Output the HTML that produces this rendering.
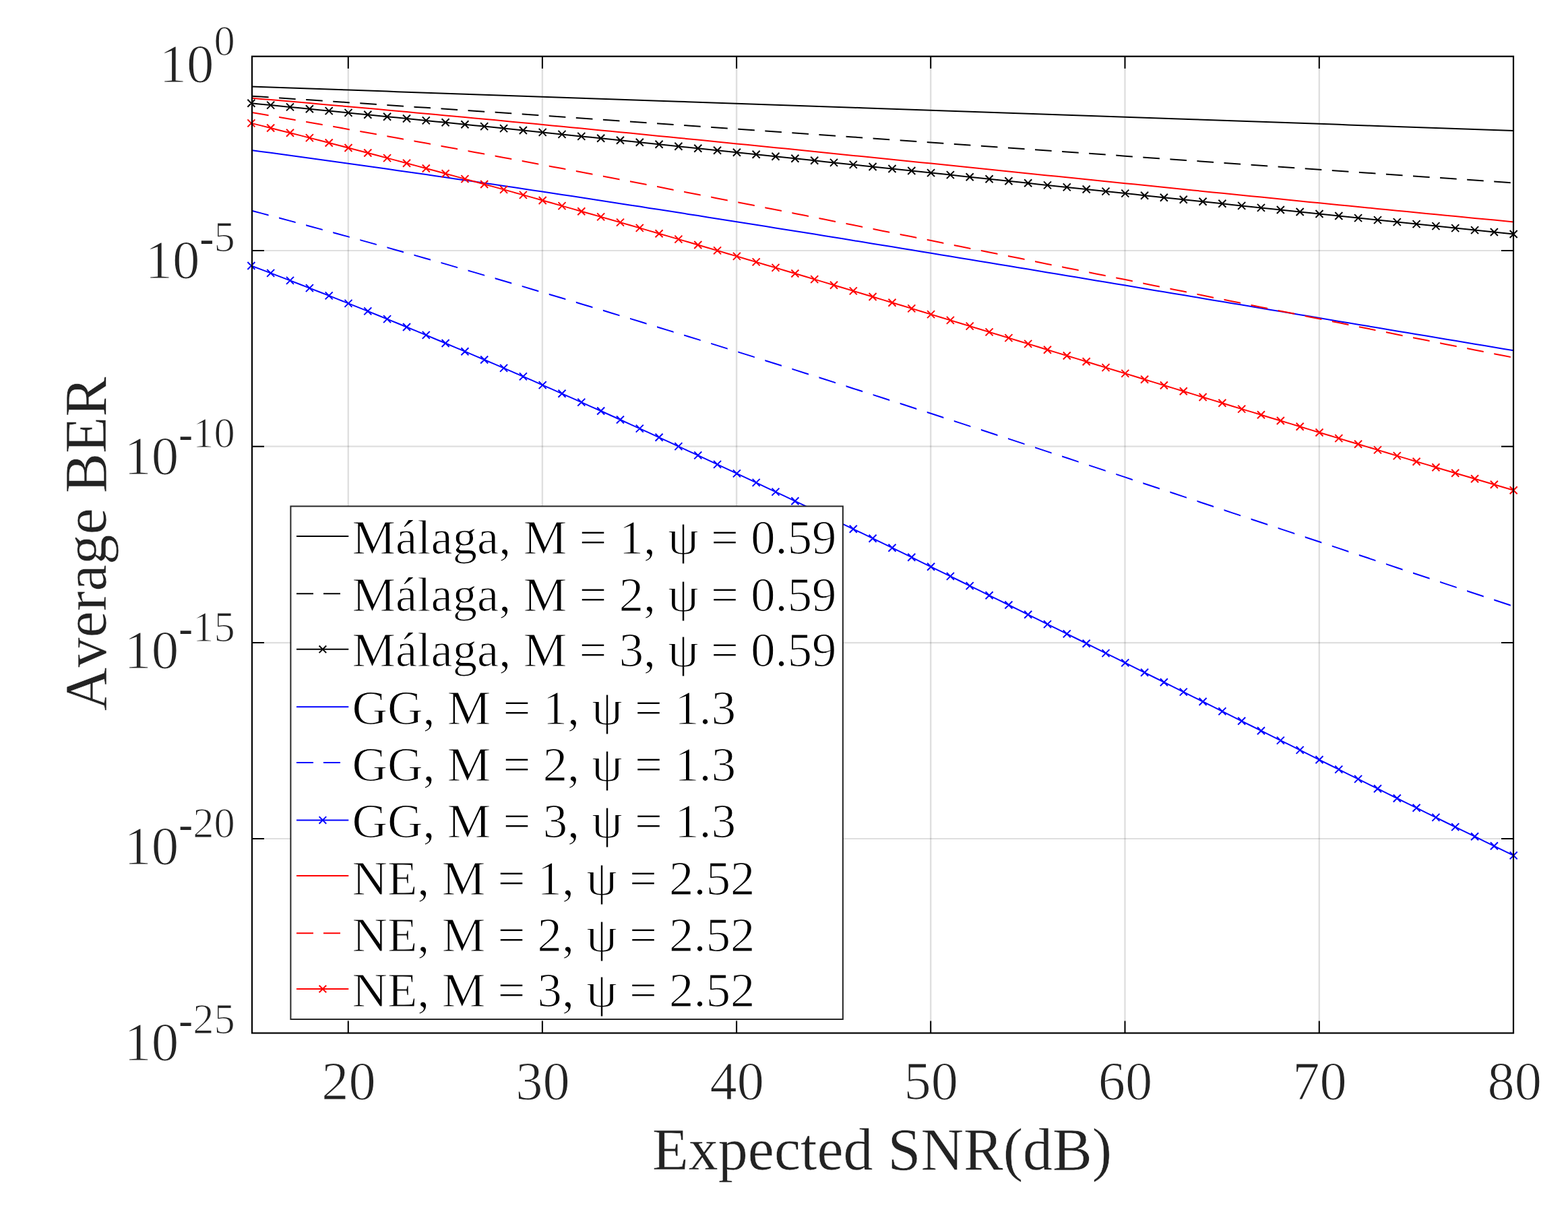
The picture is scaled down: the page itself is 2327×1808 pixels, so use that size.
<!DOCTYPE html><html><head><meta charset="utf-8"><style>html,body{margin:0;padding:0;background:#fff;}svg{display:block;}</style></head><body>
<div id="w">
<svg width="2327" height="1808" viewBox="0 0 2327 1808" font-family="Liberation Serif, Times New Roman, serif" style="font-kerning:none">
<rect width="2327" height="1808" fill="#fff"/>
<style>text{stroke:#fff;stroke-width:1.2;}</style>
<path d="M516.8 83.7V1533.5M804.9 83.7V1533.5M1093.1 83.7V1533.5M1381.2 83.7V1533.5M1669.5 83.7V1533.5M1957.8 83.7V1533.5" stroke="#262626" stroke-opacity="0.15" stroke-width="2.4" fill="none"/>
<path d="M374.0 372.0H2246.0M374.0 662.7H2246.0M374.0 954.1H2246.0M374.0 1245.0H2246.0" stroke="#262626" stroke-opacity="0.15" stroke-width="2.2" fill="none"/>
<g clip-path="url(#clip)" fill="none" stroke-width="2.0" stroke-linejoin="round">
<defs><clipPath id="clip"><rect x="366.0" y="83.7" width="1888.0" height="1449.8"/></clipPath>
<clipPath id="dash"><rect x="374.00" y="83.7" width="24.6" height="1449.8"/><rect x="414.07" y="83.7" width="24.6" height="1449.8"/><rect x="454.14" y="83.7" width="24.6" height="1449.8"/><rect x="494.21" y="83.7" width="24.6" height="1449.8"/><rect x="534.28" y="83.7" width="24.6" height="1449.8"/><rect x="574.35" y="83.7" width="24.6" height="1449.8"/><rect x="614.42" y="83.7" width="24.6" height="1449.8"/><rect x="654.49" y="83.7" width="24.6" height="1449.8"/><rect x="694.56" y="83.7" width="24.6" height="1449.8"/><rect x="734.63" y="83.7" width="24.6" height="1449.8"/><rect x="774.70" y="83.7" width="24.6" height="1449.8"/><rect x="814.77" y="83.7" width="24.6" height="1449.8"/><rect x="854.84" y="83.7" width="24.6" height="1449.8"/><rect x="894.91" y="83.7" width="24.6" height="1449.8"/><rect x="934.98" y="83.7" width="24.6" height="1449.8"/><rect x="975.05" y="83.7" width="24.6" height="1449.8"/><rect x="1015.12" y="83.7" width="24.6" height="1449.8"/><rect x="1055.19" y="83.7" width="24.6" height="1449.8"/><rect x="1095.26" y="83.7" width="24.6" height="1449.8"/><rect x="1135.33" y="83.7" width="24.6" height="1449.8"/><rect x="1175.40" y="83.7" width="24.6" height="1449.8"/><rect x="1215.47" y="83.7" width="24.6" height="1449.8"/><rect x="1255.54" y="83.7" width="24.6" height="1449.8"/><rect x="1295.61" y="83.7" width="24.6" height="1449.8"/><rect x="1335.68" y="83.7" width="24.6" height="1449.8"/><rect x="1375.75" y="83.7" width="24.6" height="1449.8"/><rect x="1415.82" y="83.7" width="24.6" height="1449.8"/><rect x="1455.89" y="83.7" width="24.6" height="1449.8"/><rect x="1495.96" y="83.7" width="24.6" height="1449.8"/><rect x="1536.03" y="83.7" width="24.6" height="1449.8"/><rect x="1576.10" y="83.7" width="24.6" height="1449.8"/><rect x="1616.17" y="83.7" width="24.6" height="1449.8"/><rect x="1656.24" y="83.7" width="24.6" height="1449.8"/><rect x="1696.31" y="83.7" width="24.6" height="1449.8"/><rect x="1736.38" y="83.7" width="24.6" height="1449.8"/><rect x="1776.45" y="83.7" width="24.6" height="1449.8"/><rect x="1816.52" y="83.7" width="24.6" height="1449.8"/><rect x="1856.59" y="83.7" width="24.6" height="1449.8"/><rect x="1896.66" y="83.7" width="24.6" height="1449.8"/><rect x="1936.73" y="83.7" width="24.6" height="1449.8"/><rect x="1976.80" y="83.7" width="24.6" height="1449.8"/><rect x="2016.87" y="83.7" width="24.6" height="1449.8"/><rect x="2056.94" y="83.7" width="24.6" height="1449.8"/><rect x="2097.01" y="83.7" width="24.6" height="1449.8"/><rect x="2137.08" y="83.7" width="24.6" height="1449.8"/><rect x="2177.15" y="83.7" width="24.6" height="1449.8"/><rect x="2217.22" y="83.7" width="24.6" height="1449.8"/></clipPath></defs>
<path d="M372.9 128.6 L387.3 129.1 L401.7 129.6 L416.1 130.1 L430.5 130.6 L444.9 131.1 L459.4 131.6 L473.8 132.1 L488.2 132.6 L502.6 133.1 L517.0 133.6 L531.4 134.1 L545.8 134.6 L560.2 135.1 L574.6 135.6 L589.0 136.2 L603.5 136.7 L617.9 137.2 L632.3 137.7 L646.7 138.2 L661.1 138.7 L675.5 139.2 L689.9 139.7 L704.3 140.2 L718.7 140.7 L733.1 141.2 L747.6 141.7 L762.0 142.2 L776.4 142.7 L790.8 143.2 L805.2 143.7 L819.6 144.2 L834.0 144.7 L848.4 145.2 L862.8 145.7 L877.2 146.2 L891.7 146.7 L906.1 147.2 L920.5 147.7 L934.9 148.2 L949.3 148.7 L963.7 149.2 L978.1 149.7 L992.5 150.2 L1006.9 150.7 L1021.4 151.2 L1035.8 151.7 L1050.2 152.2 L1064.6 152.7 L1079.0 153.2 L1093.4 153.7 L1107.8 154.2 L1122.2 154.7 L1136.6 155.2 L1151.0 155.7 L1165.4 156.2 L1179.9 156.7 L1194.3 157.2 L1208.7 157.7 L1223.1 158.2 L1237.5 158.7 L1251.9 159.2 L1266.3 159.7 L1280.7 160.2 L1295.1 160.7 L1309.5 161.2 L1324.0 161.7 L1338.4 162.2 L1352.8 162.7 L1367.2 163.2 L1381.6 163.7 L1396.0 164.2 L1410.4 164.7 L1424.8 165.2 L1439.2 165.7 L1453.7 166.2 L1468.1 166.7 L1482.5 167.2 L1496.9 167.7 L1511.3 168.2 L1525.7 168.7 L1540.1 169.2 L1554.5 169.7 L1568.9 170.2 L1583.3 170.7 L1597.8 171.2 L1612.2 171.7 L1626.6 172.2 L1641.0 172.7 L1655.4 173.2 L1669.8 173.7 L1684.2 174.3 L1698.6 174.8 L1713.0 175.3 L1727.4 175.8 L1741.8 176.3 L1756.3 176.8 L1770.7 177.3 L1785.1 177.8 L1799.5 178.3 L1813.9 178.8 L1828.3 179.3 L1842.7 179.8 L1857.1 180.3 L1871.5 180.8 L1885.9 181.3 L1900.4 181.8 L1914.8 182.3 L1929.2 182.8 L1943.6 183.3 L1958.0 183.8 L1972.4 184.3 L1986.8 184.8 L2001.2 185.4 L2015.6 185.9 L2030.1 186.4 L2044.5 186.9 L2058.9 187.4 L2073.3 187.9 L2087.7 188.4 L2102.1 188.9 L2116.5 189.4 L2130.9 189.9 L2145.3 190.4 L2159.7 190.9 L2174.2 191.4 L2188.6 192.0 L2203.0 192.5 L2217.4 193.0 L2231.8 193.5 L2246.2 194.0" stroke="#000000"/>
<path d="M372.9 142.7 L387.3 143.6 L401.7 144.6 L416.1 145.5 L430.5 146.5 L444.9 147.4 L459.4 148.3 L473.8 149.3 L488.2 150.2 L502.6 151.2 L517.0 152.2 L531.4 153.1 L545.8 154.1 L560.2 155.0 L574.6 156.0 L589.0 156.9 L603.5 157.9 L617.9 158.9 L632.3 159.8 L646.7 160.8 L661.1 161.8 L675.5 162.7 L689.9 163.7 L704.3 164.7 L718.7 165.7 L733.1 166.6 L747.6 167.6 L762.0 168.6 L776.4 169.6 L790.8 170.6 L805.2 171.5 L819.6 172.5 L834.0 173.5 L848.4 174.5 L862.8 175.5 L877.2 176.5 L891.7 177.4 L906.1 178.4 L920.5 179.4 L934.9 180.4 L949.3 181.4 L963.7 182.4 L978.1 183.4 L992.5 184.4 L1006.9 185.4 L1021.4 186.4 L1035.8 187.4 L1050.2 188.4 L1064.6 189.4 L1079.0 190.4 L1093.4 191.4 L1107.8 192.4 L1122.2 193.4 L1136.6 194.4 L1151.0 195.4 L1165.4 196.4 L1179.9 197.4 L1194.3 198.4 L1208.7 199.4 L1223.1 200.4 L1237.5 201.4 L1251.9 202.4 L1266.3 203.4 L1280.7 204.4 L1295.1 205.4 L1309.5 206.4 L1324.0 207.4 L1338.4 208.4 L1352.8 209.5 L1367.2 210.5 L1381.6 211.5 L1396.0 212.5 L1410.4 213.5 L1424.8 214.5 L1439.2 215.5 L1453.7 216.5 L1468.1 217.5 L1482.5 218.5 L1496.9 219.5 L1511.3 220.6 L1525.7 221.6 L1540.1 222.6 L1554.5 223.6 L1568.9 224.6 L1583.3 225.6 L1597.8 226.6 L1612.2 227.6 L1626.6 228.6 L1641.0 229.6 L1655.4 230.6 L1669.8 231.7 L1684.2 232.7 L1698.6 233.7 L1713.0 234.7 L1727.4 235.7 L1741.8 236.7 L1756.3 237.7 L1770.7 238.7 L1785.1 239.7 L1799.5 240.7 L1813.9 241.7 L1828.3 242.7 L1842.7 243.7 L1857.1 244.7 L1871.5 245.7 L1885.9 246.7 L1900.4 247.7 L1914.8 248.7 L1929.2 249.7 L1943.6 250.7 L1958.0 251.7 L1972.4 252.7 L1986.8 253.7 L2001.2 254.7 L2015.6 255.7 L2030.1 256.7 L2044.5 257.7 L2058.9 258.7 L2073.3 259.7 L2087.7 260.7 L2102.1 261.7 L2116.5 262.7 L2130.9 263.6 L2145.3 264.6 L2159.7 265.6 L2174.2 266.6 L2188.6 267.6 L2203.0 268.6 L2217.4 269.5 L2231.8 270.5 L2246.2 271.5" stroke="#000000" clip-path="url(#dash)"/>
<path d="M372.9 153.3 L387.3 154.7 L401.7 156.1 L416.1 157.5 L430.5 158.9 L444.9 160.3 L459.4 161.8 L473.8 163.2 L488.2 164.6 L502.6 166.0 L517.0 167.4 L531.4 168.9 L545.8 170.3 L560.2 171.7 L574.6 173.2 L589.0 174.6 L603.5 176.0 L617.9 177.5 L632.3 178.9 L646.7 180.4 L661.1 181.8 L675.5 183.3 L689.9 184.7 L704.3 186.2 L718.7 187.6 L733.1 189.1 L747.6 190.6 L762.0 192.0 L776.4 193.5 L790.8 195.0 L805.2 196.4 L819.6 197.9 L834.0 199.4 L848.4 200.9 L862.8 202.4 L877.2 203.8 L891.7 205.3 L906.1 206.8 L920.5 208.3 L934.9 209.8 L949.3 211.3 L963.7 212.8 L978.1 214.3 L992.5 215.8 L1006.9 217.3 L1021.4 218.8 L1035.8 220.3 L1050.2 221.8 L1064.6 223.3 L1079.0 224.8 L1093.4 226.3 L1107.8 227.8 L1122.2 229.3 L1136.6 230.8 L1151.0 232.3 L1165.4 233.8 L1179.9 235.3 L1194.3 236.8 L1208.7 238.3 L1223.1 239.9 L1237.5 241.4 L1251.9 242.9 L1266.3 244.4 L1280.7 245.9 L1295.1 247.5 L1309.5 249.0 L1324.0 250.5 L1338.4 252.0 L1352.8 253.5 L1367.2 255.1 L1381.6 256.6 L1396.0 258.1 L1410.4 259.6 L1424.8 261.2 L1439.2 262.7 L1453.7 264.2 L1468.1 265.7 L1482.5 267.3 L1496.9 268.8 L1511.3 270.3 L1525.7 271.8 L1540.1 273.4 L1554.5 274.9 L1568.9 276.4 L1583.3 277.9 L1597.8 279.5 L1612.2 281.0 L1626.6 282.5 L1641.0 284.1 L1655.4 285.6 L1669.8 287.1 L1684.2 288.6 L1698.6 290.2 L1713.0 291.7 L1727.4 293.2 L1741.8 294.7 L1756.3 296.3 L1770.7 297.8 L1785.1 299.3 L1799.5 300.8 L1813.9 302.3 L1828.3 303.9 L1842.7 305.4 L1857.1 306.9 L1871.5 308.4 L1885.9 309.9 L1900.4 311.5 L1914.8 313.0 L1929.2 314.5 L1943.6 316.0 L1958.0 317.5 L1972.4 319.0 L1986.8 320.5 L2001.2 322.0 L2015.6 323.6 L2030.1 325.1 L2044.5 326.6 L2058.9 328.1 L2073.3 329.6 L2087.7 331.1 L2102.1 332.6 L2116.5 334.1 L2130.9 335.6 L2145.3 337.1 L2159.7 338.6 L2174.2 340.1 L2188.6 341.6 L2203.0 343.1 L2217.4 344.5 L2231.8 346.0 L2246.2 347.5" stroke="#000000"/>
<path d="M367.4 147.8L378.4 158.8M367.4 158.8L378.4 147.8M396.2 150.6L407.2 161.6M396.2 161.6L407.2 150.6M425.0 153.4L436.0 164.4M425.0 164.4L436.0 153.4M453.9 156.3L464.9 167.3M453.9 167.3L464.9 156.3M482.7 159.1L493.7 170.1M482.7 170.1L493.7 159.1M511.5 161.9L522.5 172.9M511.5 172.9L522.5 161.9M540.3 164.8L551.3 175.8M540.3 175.8L551.3 164.8M569.1 167.7L580.1 178.7M569.1 178.7L580.1 167.7M598.0 170.5L609.0 181.5M598.0 181.5L609.0 170.5M626.8 173.4L637.8 184.4M626.8 184.4L637.8 173.4M655.6 176.3L666.6 187.3M655.6 187.3L666.6 176.3M684.4 179.2L695.4 190.2M684.4 190.2L695.4 179.2M713.2 182.1L724.2 193.1M713.2 193.1L724.2 182.1M742.1 185.1L753.1 196.1M742.1 196.1L753.1 185.1M770.9 188.0L781.9 199.0M770.9 199.0L781.9 188.0M799.7 190.9L810.7 201.9M799.7 201.9L810.7 190.9M828.5 193.9L839.5 204.9M828.5 204.9L839.5 193.9M857.3 196.9L868.3 207.9M857.3 207.9L868.3 196.9M886.2 199.8L897.2 210.8M886.2 210.8L897.2 199.8M915.0 202.8L926.0 213.8M915.0 213.8L926.0 202.8M943.8 205.8L954.8 216.8M943.8 216.8L954.8 205.8M972.6 208.8L983.6 219.8M972.6 219.8L983.6 208.8M1001.4 211.8L1012.4 222.8M1001.4 222.8L1012.4 211.8M1030.3 214.8L1041.3 225.8M1030.3 225.8L1041.3 214.8M1059.1 217.8L1070.1 228.8M1059.1 228.8L1070.1 217.8M1087.9 220.8L1098.9 231.8M1087.9 231.8L1098.9 220.8M1116.7 223.8L1127.7 234.8M1116.7 234.8L1127.7 223.8M1145.5 226.8L1156.5 237.8M1145.5 237.8L1156.5 226.8M1174.4 229.8L1185.4 240.8M1174.4 240.8L1185.4 229.8M1203.2 232.8L1214.2 243.8M1203.2 243.8L1214.2 232.8M1232.0 235.9L1243.0 246.9M1232.0 246.9L1243.0 235.9M1260.8 238.9L1271.8 249.9M1260.8 249.9L1271.8 238.9M1289.6 242.0L1300.6 253.0M1289.6 253.0L1300.6 242.0M1318.5 245.0L1329.5 256.0M1318.5 256.0L1329.5 245.0M1347.3 248.0L1358.3 259.0M1347.3 259.0L1358.3 248.0M1376.1 251.1L1387.1 262.1M1376.1 262.1L1387.1 251.1M1404.9 254.1L1415.9 265.1M1404.9 265.1L1415.9 254.1M1433.7 257.2L1444.7 268.2M1433.7 268.2L1444.7 257.2M1462.6 260.2L1473.6 271.2M1462.6 271.2L1473.6 260.2M1491.4 263.3L1502.4 274.3M1491.4 274.3L1502.4 263.3M1520.2 266.3L1531.2 277.3M1520.2 277.3L1531.2 266.3M1549.0 269.4L1560.0 280.4M1549.0 280.4L1560.0 269.4M1577.8 272.4L1588.8 283.4M1577.8 283.4L1588.8 272.4M1606.7 275.5L1617.7 286.5M1606.7 286.5L1617.7 275.5M1635.5 278.6L1646.5 289.6M1635.5 289.6L1646.5 278.6M1664.3 281.6L1675.3 292.6M1664.3 292.6L1675.3 281.6M1693.1 284.7L1704.1 295.7M1693.1 295.7L1704.1 284.7M1721.9 287.7L1732.9 298.7M1721.9 298.7L1732.9 287.7M1750.8 290.8L1761.8 301.8M1750.8 301.8L1761.8 290.8M1779.6 293.8L1790.6 304.8M1779.6 304.8L1790.6 293.8M1808.4 296.8L1819.4 307.8M1808.4 307.8L1819.4 296.8M1837.2 299.9L1848.2 310.9M1837.2 310.9L1848.2 299.9M1866.0 302.9L1877.0 313.9M1866.0 313.9L1877.0 302.9M1894.9 306.0L1905.9 317.0M1894.9 317.0L1905.9 306.0M1923.7 309.0L1934.7 320.0M1923.7 320.0L1934.7 309.0M1952.5 312.0L1963.5 323.0M1952.5 323.0L1963.5 312.0M1981.3 315.0L1992.3 326.0M1981.3 326.0L1992.3 315.0M2010.1 318.1L2021.1 329.1M2010.1 329.1L2021.1 318.1M2039.0 321.1L2050.0 332.1M2039.0 332.1L2050.0 321.1M2067.8 324.1L2078.8 335.1M2067.8 335.1L2078.8 324.1M2096.6 327.1L2107.6 338.1M2096.6 338.1L2107.6 327.1M2125.4 330.1L2136.4 341.1M2125.4 341.1L2136.4 330.1M2154.2 333.1L2165.2 344.1M2154.2 344.1L2165.2 333.1M2183.1 336.1L2194.1 347.1M2183.1 347.1L2194.1 336.1M2211.9 339.0L2222.9 350.0M2211.9 350.0L2222.9 339.0M2240.7 342.0L2251.7 353.0M2240.7 353.0L2251.7 342.0" stroke="#000000"/>
<path d="M372.9 222.9 L387.3 224.9 L401.7 226.8 L416.1 228.8 L430.5 230.7 L444.9 232.7 L459.4 234.7 L473.8 236.7 L488.2 238.7 L502.6 240.7 L517.0 242.7 L531.4 244.7 L545.8 246.7 L560.2 248.8 L574.6 250.8 L589.0 252.9 L603.5 254.9 L617.9 257.0 L632.3 259.1 L646.7 261.2 L661.1 263.3 L675.5 265.4 L689.9 267.5 L704.3 269.6 L718.7 271.7 L733.1 273.8 L747.6 276.0 L762.0 278.1 L776.4 280.3 L790.8 282.4 L805.2 284.6 L819.6 286.8 L834.0 289.0 L848.4 291.1 L862.8 293.3 L877.2 295.5 L891.7 297.7 L906.1 300.0 L920.5 302.2 L934.9 304.4 L949.3 306.6 L963.7 308.9 L978.1 311.1 L992.5 313.3 L1006.9 315.6 L1021.4 317.9 L1035.8 320.1 L1050.2 322.4 L1064.6 324.7 L1079.0 326.9 L1093.4 329.2 L1107.8 331.5 L1122.2 333.8 L1136.6 336.1 L1151.0 338.4 L1165.4 340.7 L1179.9 343.0 L1194.3 345.3 L1208.7 347.6 L1223.1 350.0 L1237.5 352.3 L1251.9 354.6 L1266.3 357.0 L1280.7 359.3 L1295.1 361.7 L1309.5 364.0 L1324.0 366.3 L1338.4 368.7 L1352.8 371.1 L1367.2 373.4 L1381.6 375.8 L1396.0 378.2 L1410.4 380.5 L1424.8 382.9 L1439.2 385.3 L1453.7 387.7 L1468.1 390.0 L1482.5 392.4 L1496.9 394.8 L1511.3 397.2 L1525.7 399.6 L1540.1 402.0 L1554.5 404.4 L1568.9 406.8 L1583.3 409.2 L1597.8 411.6 L1612.2 414.0 L1626.6 416.4 L1641.0 418.8 L1655.4 421.2 L1669.8 423.6 L1684.2 426.0 L1698.6 428.4 L1713.0 430.9 L1727.4 433.3 L1741.8 435.7 L1756.3 438.1 L1770.7 440.5 L1785.1 442.9 L1799.5 445.4 L1813.9 447.8 L1828.3 450.2 L1842.7 452.6 L1857.1 455.1 L1871.5 457.5 L1885.9 459.9 L1900.4 462.3 L1914.8 464.7 L1929.2 467.2 L1943.6 469.6 L1958.0 472.0 L1972.4 474.4 L1986.8 476.9 L2001.2 479.3 L2015.6 481.7 L2030.1 484.1 L2044.5 486.5 L2058.9 488.9 L2073.3 491.4 L2087.7 493.8 L2102.1 496.2 L2116.5 498.6 L2130.9 501.0 L2145.3 503.4 L2159.7 505.8 L2174.2 508.2 L2188.6 510.7 L2203.0 513.1 L2217.4 515.5 L2231.8 517.9 L2246.2 520.3" stroke="#0000ff"/>
<path d="M372.9 312.6 L387.3 316.4 L401.7 320.2 L416.1 324.0 L430.5 327.9 L444.9 331.8 L459.4 335.7 L473.8 339.6 L488.2 343.5 L502.6 347.5 L517.0 351.4 L531.4 355.4 L545.8 359.4 L560.2 363.4 L574.6 367.4 L589.0 371.5 L603.5 375.5 L617.9 379.6 L632.3 383.7 L646.7 387.8 L661.1 391.9 L675.5 396.1 L689.9 400.2 L704.3 404.4 L718.7 408.6 L733.1 412.8 L747.6 417.0 L762.0 421.2 L776.4 425.4 L790.8 429.7 L805.2 434.0 L819.6 438.2 L834.0 442.5 L848.4 446.8 L862.8 451.2 L877.2 455.5 L891.7 459.8 L906.1 464.2 L920.5 468.6 L934.9 472.9 L949.3 477.3 L963.7 481.7 L978.1 486.2 L992.5 490.6 L1006.9 495.0 L1021.4 499.5 L1035.8 503.9 L1050.2 508.4 L1064.6 512.9 L1079.0 517.4 L1093.4 521.9 L1107.8 526.4 L1122.2 530.9 L1136.6 535.5 L1151.0 540.0 L1165.4 544.5 L1179.9 549.1 L1194.3 553.7 L1208.7 558.3 L1223.1 562.8 L1237.5 567.4 L1251.9 572.0 L1266.3 576.7 L1280.7 581.3 L1295.1 585.9 L1309.5 590.5 L1324.0 595.2 L1338.4 599.8 L1352.8 604.5 L1367.2 609.2 L1381.6 613.8 L1396.0 618.5 L1410.4 623.2 L1424.8 627.9 L1439.2 632.6 L1453.7 637.3 L1468.1 642.0 L1482.5 646.7 L1496.9 651.4 L1511.3 656.1 L1525.7 660.9 L1540.1 665.6 L1554.5 670.4 L1568.9 675.1 L1583.3 679.8 L1597.8 684.6 L1612.2 689.4 L1626.6 694.1 L1641.0 698.9 L1655.4 703.6 L1669.8 708.4 L1684.2 713.2 L1698.6 718.0 L1713.0 722.7 L1727.4 727.5 L1741.8 732.3 L1756.3 737.1 L1770.7 741.9 L1785.1 746.7 L1799.5 751.5 L1813.9 756.3 L1828.3 761.1 L1842.7 765.9 L1857.1 770.7 L1871.5 775.5 L1885.9 780.3 L1900.4 785.1 L1914.8 789.9 L1929.2 794.7 L1943.6 799.5 L1958.0 804.3 L1972.4 809.1 L1986.8 813.9 L2001.2 818.7 L2015.6 823.5 L2030.1 828.3 L2044.5 833.1 L2058.9 837.9 L2073.3 842.7 L2087.7 847.5 L2102.1 852.3 L2116.5 857.0 L2130.9 861.8 L2145.3 866.6 L2159.7 871.4 L2174.2 876.2 L2188.6 881.0 L2203.0 885.7 L2217.4 890.5 L2231.8 895.3 L2246.2 900.0" stroke="#0000ff" clip-path="url(#dash)"/>
<path d="M372.9 394.5 L387.3 399.9 L401.7 405.4 L416.1 410.9 L430.5 416.4 L444.9 422.0 L459.4 427.6 L473.8 433.2 L488.2 438.9 L502.6 444.6 L517.0 450.4 L531.4 456.1 L545.8 461.9 L560.2 467.8 L574.6 473.6 L589.0 479.5 L603.5 485.5 L617.9 491.4 L632.3 497.4 L646.7 503.5 L661.1 509.5 L675.5 515.6 L689.9 521.7 L704.3 527.8 L718.7 534.0 L733.1 540.2 L747.6 546.4 L762.0 552.7 L776.4 558.9 L790.8 565.2 L805.2 571.6 L819.6 577.9 L834.0 584.3 L848.4 590.7 L862.8 597.1 L877.2 603.6 L891.7 610.0 L906.1 616.5 L920.5 623.0 L934.9 629.6 L949.3 636.1 L963.7 642.7 L978.1 649.3 L992.5 655.9 L1006.9 662.6 L1021.4 669.3 L1035.8 675.9 L1050.2 682.6 L1064.6 689.4 L1079.0 696.1 L1093.4 702.9 L1107.8 709.6 L1122.2 716.4 L1136.6 723.3 L1151.0 730.1 L1165.4 736.9 L1179.9 743.8 L1194.3 750.7 L1208.7 757.6 L1223.1 764.5 L1237.5 771.4 L1251.9 778.3 L1266.3 785.3 L1280.7 792.2 L1295.1 799.2 L1309.5 806.2 L1324.0 813.2 L1338.4 820.2 L1352.8 827.2 L1367.2 834.3 L1381.6 841.3 L1396.0 848.4 L1410.4 855.4 L1424.8 862.5 L1439.2 869.6 L1453.7 876.7 L1468.1 883.8 L1482.5 890.9 L1496.9 898.0 L1511.3 905.2 L1525.7 912.3 L1540.1 919.4 L1554.5 926.6 L1568.9 933.7 L1583.3 940.9 L1597.8 948.0 L1612.2 955.2 L1626.6 962.4 L1641.0 969.6 L1655.4 976.7 L1669.8 983.9 L1684.2 991.1 L1698.6 998.3 L1713.0 1005.5 L1727.4 1012.7 L1741.8 1019.9 L1756.3 1027.1 L1770.7 1034.3 L1785.1 1041.5 L1799.5 1048.7 L1813.9 1055.9 L1828.3 1063.1 L1842.7 1070.3 L1857.1 1077.5 L1871.5 1084.7 L1885.9 1091.9 L1900.4 1099.1 L1914.8 1106.2 L1929.2 1113.4 L1943.6 1120.6 L1958.0 1127.8 L1972.4 1135.0 L1986.8 1142.1 L2001.2 1149.3 L2015.6 1156.4 L2030.1 1163.6 L2044.5 1170.7 L2058.9 1177.9 L2073.3 1185.0 L2087.7 1192.1 L2102.1 1199.2 L2116.5 1206.3 L2130.9 1213.4 L2145.3 1220.5 L2159.7 1227.6 L2174.2 1234.7 L2188.6 1241.7 L2203.0 1248.8 L2217.4 1255.8 L2231.8 1262.9 L2246.2 1269.9" stroke="#0000ff"/>
<path d="M367.4 389.0L378.4 400.0M367.4 400.0L378.4 389.0M396.2 399.9L407.2 410.9M396.2 410.9L407.2 399.9M425.0 410.9L436.0 421.9M425.0 421.9L436.0 410.9M453.9 422.1L464.9 433.1M453.9 433.1L464.9 422.1M482.7 433.4L493.7 444.4M482.7 444.4L493.7 433.4M511.5 444.9L522.5 455.9M511.5 455.9L522.5 444.9M540.3 456.4L551.3 467.4M540.3 467.4L551.3 456.4M569.1 468.1L580.1 479.1M569.1 479.1L580.1 468.1M598.0 480.0L609.0 491.0M598.0 491.0L609.0 480.0M626.8 491.9L637.8 502.9M626.8 502.9L637.8 491.9M655.6 504.0L666.6 515.0M655.6 515.0L666.6 504.0M684.4 516.2L695.4 527.2M684.4 527.2L695.4 516.2M713.2 528.5L724.2 539.5M713.2 539.5L724.2 528.5M742.1 540.9L753.1 551.9M742.1 551.9L753.1 540.9M770.9 553.4L781.9 564.4M770.9 564.4L781.9 553.4M799.7 566.1L810.7 577.1M799.7 577.1L810.7 566.1M828.5 578.8L839.5 589.8M828.5 589.8L839.5 578.8M857.3 591.6L868.3 602.6M857.3 602.6L868.3 591.6M886.2 604.5L897.2 615.5M886.2 615.5L897.2 604.5M915.0 617.5L926.0 628.5M915.0 628.5L926.0 617.5M943.8 630.6L954.8 641.6M943.8 641.6L954.8 630.6M972.6 643.8L983.6 654.8M972.6 654.8L983.6 643.8M1001.4 657.1L1012.4 668.1M1001.4 668.1L1012.4 657.1M1030.3 670.4L1041.3 681.4M1030.3 681.4L1041.3 670.4M1059.1 683.9L1070.1 694.9M1059.1 694.9L1070.1 683.9M1087.9 697.4L1098.9 708.4M1087.9 708.4L1098.9 697.4M1116.7 710.9L1127.7 721.9M1116.7 721.9L1127.7 710.9M1145.5 724.6L1156.5 735.6M1145.5 735.6L1156.5 724.6M1174.4 738.3L1185.4 749.3M1174.4 749.3L1185.4 738.3M1203.2 752.1L1214.2 763.1M1203.2 763.1L1214.2 752.1M1232.0 765.9L1243.0 776.9M1232.0 776.9L1243.0 765.9M1260.8 779.8L1271.8 790.8M1260.8 790.8L1271.8 779.8M1289.6 793.7L1300.6 804.7M1289.6 804.7L1300.6 793.7M1318.5 807.7L1329.5 818.7M1318.5 818.7L1329.5 807.7M1347.3 821.7L1358.3 832.7M1347.3 832.7L1358.3 821.7M1376.1 835.8L1387.1 846.8M1376.1 846.8L1387.1 835.8M1404.9 849.9L1415.9 860.9M1404.9 860.9L1415.9 849.9M1433.7 864.1L1444.7 875.1M1433.7 875.1L1444.7 864.1M1462.6 878.3L1473.6 889.3M1462.6 889.3L1473.6 878.3M1491.4 892.5L1502.4 903.5M1491.4 903.5L1502.4 892.5M1520.2 906.8L1531.2 917.8M1520.2 917.8L1531.2 906.8M1549.0 921.1L1560.0 932.1M1549.0 932.1L1560.0 921.1M1577.8 935.4L1588.8 946.4M1577.8 946.4L1588.8 935.4M1606.7 949.7L1617.7 960.7M1606.7 960.7L1617.7 949.7M1635.5 964.1L1646.5 975.1M1635.5 975.1L1646.5 964.1M1664.3 978.4L1675.3 989.4M1664.3 989.4L1675.3 978.4M1693.1 992.8L1704.1 1003.8M1693.1 1003.8L1704.1 992.8M1721.9 1007.2L1732.9 1018.2M1721.9 1018.2L1732.9 1007.2M1750.8 1021.6L1761.8 1032.6M1750.8 1032.6L1761.8 1021.6M1779.6 1036.0L1790.6 1047.0M1779.6 1047.0L1790.6 1036.0M1808.4 1050.4L1819.4 1061.4M1808.4 1061.4L1819.4 1050.4M1837.2 1064.8L1848.2 1075.8M1837.2 1075.8L1848.2 1064.8M1866.0 1079.2L1877.0 1090.2M1866.0 1090.2L1877.0 1079.2M1894.9 1093.6L1905.9 1104.6M1894.9 1104.6L1905.9 1093.6M1923.7 1107.9L1934.7 1118.9M1923.7 1118.9L1934.7 1107.9M1952.5 1122.3L1963.5 1133.3M1952.5 1133.3L1963.5 1122.3M1981.3 1136.6L1992.3 1147.6M1981.3 1147.6L1992.3 1136.6M2010.1 1150.9L2021.1 1161.9M2010.1 1161.9L2021.1 1150.9M2039.0 1165.2L2050.0 1176.2M2039.0 1176.2L2050.0 1165.2M2067.8 1179.5L2078.8 1190.5M2067.8 1190.5L2078.8 1179.5M2096.6 1193.7L2107.6 1204.7M2096.6 1204.7L2107.6 1193.7M2125.4 1207.9L2136.4 1218.9M2125.4 1218.9L2136.4 1207.9M2154.2 1222.1L2165.2 1233.1M2154.2 1233.1L2165.2 1222.1M2183.1 1236.2L2194.1 1247.2M2183.1 1247.2L2194.1 1236.2M2211.9 1250.3L2222.9 1261.3M2211.9 1261.3L2222.9 1250.3M2240.7 1264.4L2251.7 1275.4M2240.7 1275.4L2251.7 1264.4" stroke="#0000ff"/>
<path d="M372.9 145.6 L387.3 146.9 L401.7 148.1 L416.1 149.3 L430.5 150.6 L444.9 151.8 L459.4 153.1 L473.8 154.4 L488.2 155.7 L502.6 156.9 L517.0 158.2 L531.4 159.5 L545.8 160.8 L560.2 162.1 L574.6 163.4 L589.0 164.7 L603.5 166.1 L617.9 167.4 L632.3 168.7 L646.7 170.0 L661.1 171.4 L675.5 172.7 L689.9 174.1 L704.3 175.4 L718.7 176.8 L733.1 178.1 L747.6 179.5 L762.0 180.9 L776.4 182.2 L790.8 183.6 L805.2 185.0 L819.6 186.4 L834.0 187.8 L848.4 189.2 L862.8 190.6 L877.2 192.0 L891.7 193.4 L906.1 194.8 L920.5 196.2 L934.9 197.6 L949.3 199.0 L963.7 200.4 L978.1 201.9 L992.5 203.3 L1006.9 204.7 L1021.4 206.2 L1035.8 207.6 L1050.2 209.0 L1064.6 210.5 L1079.0 211.9 L1093.4 213.4 L1107.8 214.8 L1122.2 216.3 L1136.6 217.7 L1151.0 219.2 L1165.4 220.6 L1179.9 222.1 L1194.3 223.5 L1208.7 225.0 L1223.1 226.5 L1237.5 227.9 L1251.9 229.4 L1266.3 230.9 L1280.7 232.3 L1295.1 233.8 L1309.5 235.3 L1324.0 236.7 L1338.4 238.2 L1352.8 239.7 L1367.2 241.2 L1381.6 242.6 L1396.0 244.1 L1410.4 245.6 L1424.8 247.1 L1439.2 248.5 L1453.7 250.0 L1468.1 251.5 L1482.5 253.0 L1496.9 254.5 L1511.3 255.9 L1525.7 257.4 L1540.1 258.9 L1554.5 260.4 L1568.9 261.8 L1583.3 263.3 L1597.8 264.8 L1612.2 266.3 L1626.6 267.7 L1641.0 269.2 L1655.4 270.7 L1669.8 272.2 L1684.2 273.6 L1698.6 275.1 L1713.0 276.6 L1727.4 278.0 L1741.8 279.5 L1756.3 281.0 L1770.7 282.4 L1785.1 283.9 L1799.5 285.4 L1813.9 286.8 L1828.3 288.3 L1842.7 289.7 L1857.1 291.2 L1871.5 292.6 L1885.9 294.1 L1900.4 295.5 L1914.8 297.0 L1929.2 298.4 L1943.6 299.9 L1958.0 301.3 L1972.4 302.7 L1986.8 304.2 L2001.2 305.6 L2015.6 307.0 L2030.1 308.4 L2044.5 309.9 L2058.9 311.3 L2073.3 312.7 L2087.7 314.1 L2102.1 315.5 L2116.5 316.9 L2130.9 318.3 L2145.3 319.7 L2159.7 321.1 L2174.2 322.5 L2188.6 323.9 L2203.0 325.3 L2217.4 326.6 L2231.8 328.0 L2246.2 329.4" stroke="#ff0000"/>
<path d="M372.9 166.7 L387.3 169.2 L401.7 171.7 L416.1 174.2 L430.5 176.7 L444.9 179.2 L459.4 181.7 L473.8 184.2 L488.2 186.8 L502.6 189.3 L517.0 191.9 L531.4 194.4 L545.8 197.0 L560.2 199.6 L574.6 202.2 L589.0 204.8 L603.5 207.4 L617.9 210.0 L632.3 212.6 L646.7 215.3 L661.1 217.9 L675.5 220.5 L689.9 223.2 L704.3 225.9 L718.7 228.5 L733.1 231.2 L747.6 233.9 L762.0 236.6 L776.4 239.2 L790.8 241.9 L805.2 244.7 L819.6 247.4 L834.0 250.1 L848.4 252.8 L862.8 255.5 L877.2 258.3 L891.7 261.0 L906.1 263.8 L920.5 266.5 L934.9 269.3 L949.3 272.1 L963.7 274.8 L978.1 277.6 L992.5 280.4 L1006.9 283.2 L1021.4 286.0 L1035.8 288.8 L1050.2 291.6 L1064.6 294.4 L1079.0 297.2 L1093.4 300.0 L1107.8 302.8 L1122.2 305.6 L1136.6 308.5 L1151.0 311.3 L1165.4 314.1 L1179.9 317.0 L1194.3 319.8 L1208.7 322.7 L1223.1 325.5 L1237.5 328.4 L1251.9 331.2 L1266.3 334.1 L1280.7 337.0 L1295.1 339.8 L1309.5 342.7 L1324.0 345.6 L1338.4 348.4 L1352.8 351.3 L1367.2 354.2 L1381.6 357.1 L1396.0 360.0 L1410.4 362.9 L1424.8 365.8 L1439.2 368.7 L1453.7 371.5 L1468.1 374.4 L1482.5 377.3 L1496.9 380.2 L1511.3 383.1 L1525.7 386.1 L1540.1 389.0 L1554.5 391.9 L1568.9 394.8 L1583.3 397.7 L1597.8 400.6 L1612.2 403.5 L1626.6 406.4 L1641.0 409.3 L1655.4 412.2 L1669.8 415.1 L1684.2 418.1 L1698.6 421.0 L1713.0 423.9 L1727.4 426.8 L1741.8 429.7 L1756.3 432.6 L1770.7 435.5 L1785.1 438.5 L1799.5 441.4 L1813.9 444.3 L1828.3 447.2 L1842.7 450.1 L1857.1 453.0 L1871.5 455.9 L1885.9 458.8 L1900.4 461.7 L1914.8 464.6 L1929.2 467.5 L1943.6 470.4 L1958.0 473.3 L1972.4 476.2 L1986.8 479.1 L2001.2 482.0 L2015.6 484.9 L2030.1 487.8 L2044.5 490.7 L2058.9 493.6 L2073.3 496.5 L2087.7 499.4 L2102.1 502.2 L2116.5 505.1 L2130.9 508.0 L2145.3 510.9 L2159.7 513.7 L2174.2 516.6 L2188.6 519.5 L2203.0 522.3 L2217.4 525.2 L2231.8 528.0 L2246.2 530.9" stroke="#ff0000" clip-path="url(#dash)"/>
<path d="M372.9 182.9 L387.3 186.4 L401.7 190.0 L416.1 193.7 L430.5 197.3 L444.9 200.9 L459.4 204.6 L473.8 208.3 L488.2 212.0 L502.6 215.7 L517.0 219.5 L531.4 223.2 L545.8 227.0 L560.2 230.8 L574.6 234.6 L589.0 238.4 L603.5 242.2 L617.9 246.1 L632.3 250.0 L646.7 253.8 L661.1 257.7 L675.5 261.6 L689.9 265.6 L704.3 269.5 L718.7 273.5 L733.1 277.4 L747.6 281.4 L762.0 285.4 L776.4 289.4 L790.8 293.4 L805.2 297.5 L819.6 301.5 L834.0 305.6 L848.4 309.6 L862.8 313.7 L877.2 317.8 L891.7 321.9 L906.1 326.0 L920.5 330.1 L934.9 334.3 L949.3 338.4 L963.7 342.6 L978.1 346.7 L992.5 350.9 L1006.9 355.1 L1021.4 359.3 L1035.8 363.5 L1050.2 367.7 L1064.6 371.9 L1079.0 376.2 L1093.4 380.4 L1107.8 384.7 L1122.2 388.9 L1136.6 393.2 L1151.0 397.4 L1165.4 401.7 L1179.9 406.0 L1194.3 410.3 L1208.7 414.6 L1223.1 418.9 L1237.5 423.2 L1251.9 427.5 L1266.3 431.9 L1280.7 436.2 L1295.1 440.5 L1309.5 444.9 L1324.0 449.2 L1338.4 453.5 L1352.8 457.9 L1367.2 462.3 L1381.6 466.6 L1396.0 471.0 L1410.4 475.4 L1424.8 479.7 L1439.2 484.1 L1453.7 488.5 L1468.1 492.9 L1482.5 497.2 L1496.9 501.6 L1511.3 506.0 L1525.7 510.4 L1540.1 514.8 L1554.5 519.2 L1568.9 523.6 L1583.3 528.0 L1597.8 532.4 L1612.2 536.8 L1626.6 541.2 L1641.0 545.6 L1655.4 550.0 L1669.8 554.4 L1684.2 558.8 L1698.6 563.2 L1713.0 567.6 L1727.4 572.0 L1741.8 576.4 L1756.3 580.7 L1770.7 585.1 L1785.1 589.5 L1799.5 593.9 L1813.9 598.3 L1828.3 602.7 L1842.7 607.1 L1857.1 611.4 L1871.5 615.8 L1885.9 620.2 L1900.4 624.5 L1914.8 628.9 L1929.2 633.3 L1943.6 637.6 L1958.0 642.0 L1972.4 646.3 L1986.8 650.6 L2001.2 655.0 L2015.6 659.3 L2030.1 663.6 L2044.5 667.9 L2058.9 672.3 L2073.3 676.6 L2087.7 680.9 L2102.1 685.2 L2116.5 689.4 L2130.9 693.7 L2145.3 698.0 L2159.7 702.3 L2174.2 706.5 L2188.6 710.8 L2203.0 715.0 L2217.4 719.2 L2231.8 723.5 L2246.2 727.7" stroke="#ff0000"/>
<path d="M367.4 177.4L378.4 188.4M367.4 188.4L378.4 177.4M396.2 184.5L407.2 195.5M396.2 195.5L407.2 184.5M425.0 191.8L436.0 202.8M425.0 202.8L436.0 191.8M453.9 199.1L464.9 210.1M453.9 210.1L464.9 199.1M482.7 206.5L493.7 217.5M482.7 217.5L493.7 206.5M511.5 214.0L522.5 225.0M511.5 225.0L522.5 214.0M540.3 221.5L551.3 232.5M540.3 232.5L551.3 221.5M569.1 229.1L580.1 240.1M569.1 240.1L580.1 229.1M598.0 236.7L609.0 247.7M598.0 247.7L609.0 236.7M626.8 244.5L637.8 255.5M626.8 255.5L637.8 244.5M655.6 252.2L666.6 263.2M655.6 263.2L666.6 252.2M684.4 260.1L695.4 271.1M684.4 271.1L695.4 260.1M713.2 268.0L724.2 279.0M713.2 279.0L724.2 268.0M742.1 275.9L753.1 286.9M742.1 286.9L753.1 275.9M770.9 283.9L781.9 294.9M770.9 294.9L781.9 283.9M799.7 292.0L810.7 303.0M799.7 303.0L810.7 292.0M828.5 300.1L839.5 311.1M828.5 311.1L839.5 300.1M857.3 308.2L868.3 319.2M857.3 319.2L868.3 308.2M886.2 316.4L897.2 327.4M886.2 327.4L897.2 316.4M915.0 324.6L926.0 335.6M915.0 335.6L926.0 324.6M943.8 332.9L954.8 343.9M943.8 343.9L954.8 332.9M972.6 341.2L983.6 352.2M972.6 352.2L983.6 341.2M1001.4 349.6L1012.4 360.6M1001.4 360.6L1012.4 349.6M1030.3 358.0L1041.3 369.0M1030.3 369.0L1041.3 358.0M1059.1 366.4L1070.1 377.4M1059.1 377.4L1070.1 366.4M1087.9 374.9L1098.9 385.9M1087.9 385.9L1098.9 374.9M1116.7 383.4L1127.7 394.4M1116.7 394.4L1127.7 383.4M1145.5 391.9L1156.5 402.9M1145.5 402.9L1156.5 391.9M1174.4 400.5L1185.4 411.5M1174.4 411.5L1185.4 400.5M1203.2 409.1L1214.2 420.1M1203.2 420.1L1214.2 409.1M1232.0 417.7L1243.0 428.7M1232.0 428.7L1243.0 417.7M1260.8 426.4L1271.8 437.4M1260.8 437.4L1271.8 426.4M1289.6 435.0L1300.6 446.0M1289.6 446.0L1300.6 435.0M1318.5 443.7L1329.5 454.7M1318.5 454.7L1329.5 443.7M1347.3 452.4L1358.3 463.4M1347.3 463.4L1358.3 452.4M1376.1 461.1L1387.1 472.1M1376.1 472.1L1387.1 461.1M1404.9 469.9L1415.9 480.9M1404.9 480.9L1415.9 469.9M1433.7 478.6L1444.7 489.6M1433.7 489.6L1444.7 478.6M1462.6 487.4L1473.6 498.4M1462.6 498.4L1473.6 487.4M1491.4 496.1L1502.4 507.1M1491.4 507.1L1502.4 496.1M1520.2 504.9L1531.2 515.9M1520.2 515.9L1531.2 504.9M1549.0 513.7L1560.0 524.7M1549.0 524.7L1560.0 513.7M1577.8 522.5L1588.8 533.5M1577.8 533.5L1588.8 522.5M1606.7 531.3L1617.7 542.3M1606.7 542.3L1617.7 531.3M1635.5 540.1L1646.5 551.1M1635.5 551.1L1646.5 540.1M1664.3 548.9L1675.3 559.9M1664.3 559.9L1675.3 548.9M1693.1 557.7L1704.1 568.7M1693.1 568.7L1704.1 557.7M1721.9 566.5L1732.9 577.5M1721.9 577.5L1732.9 566.5M1750.8 575.2L1761.8 586.2M1750.8 586.2L1761.8 575.2M1779.6 584.0L1790.6 595.0M1779.6 595.0L1790.6 584.0M1808.4 592.8L1819.4 603.8M1808.4 603.8L1819.4 592.8M1837.2 601.6L1848.2 612.6M1837.2 612.6L1848.2 601.6M1866.0 610.3L1877.0 621.3M1866.0 621.3L1877.0 610.3M1894.9 619.0L1905.9 630.0M1894.9 630.0L1905.9 619.0M1923.7 627.8L1934.7 638.8M1923.7 638.8L1934.7 627.8M1952.5 636.5L1963.5 647.5M1952.5 647.5L1963.5 636.5M1981.3 645.1L1992.3 656.1M1981.3 656.1L1992.3 645.1M2010.1 653.8L2021.1 664.8M2010.1 664.8L2021.1 653.8M2039.0 662.4L2050.0 673.4M2039.0 673.4L2050.0 662.4M2067.8 671.1L2078.8 682.1M2067.8 682.1L2078.8 671.1M2096.6 679.7L2107.6 690.7M2096.6 690.7L2107.6 679.7M2125.4 688.2L2136.4 699.2M2125.4 699.2L2136.4 688.2M2154.2 696.8L2165.2 707.8M2154.2 707.8L2165.2 696.8M2183.1 705.3L2194.1 716.3M2183.1 716.3L2194.1 705.3M2211.9 713.7L2222.9 724.7M2211.9 724.7L2222.9 713.7M2240.7 722.2L2251.7 733.2M2240.7 733.2L2251.7 722.2" stroke="#ff0000"/>
</g>
<path d="M516.8 1533.5v-18M516.8 83.7v18M804.9 1533.5v-18M804.9 83.7v18M1093.1 1533.5v-18M1093.1 83.7v18M1381.2 1533.5v-18M1381.2 83.7v18M1669.5 1533.5v-18M1669.5 83.7v18M1957.8 1533.5v-18M1957.8 83.7v18M374.0 372.0h18M2246.0 372.0h-18M374.0 662.7h18M2246.0 662.7h-18M374.0 954.1h18M2246.0 954.1h-18M374.0 1245.0h18M2246.0 1245.0h-18" stroke="#000" stroke-width="2" fill="none"/>
<rect x="374.0" y="83.7" width="1872.0" height="1449.8" stroke="#000" stroke-width="2.2" fill="none"/>
<text x="517.4" y="1632" font-size="80.5" text-anchor="middle" fill="#232323">20</text>
<text x="805.5" y="1632" font-size="80.5" text-anchor="middle" fill="#232323">30</text>
<text x="1093.7" y="1632" font-size="80.5" text-anchor="middle" fill="#232323">40</text>
<text x="1381.8" y="1632" font-size="80.5" text-anchor="middle" fill="#232323">50</text>
<text x="1670.1" y="1632" font-size="80.5" text-anchor="middle" fill="#232323">60</text>
<text x="1958.4" y="1632" font-size="80.5" text-anchor="middle" fill="#232323">70</text>
<text x="2247.8" y="1632" font-size="80.5" text-anchor="middle" fill="#232323">80</text>
<text x="348.7" y="122.4" text-anchor="end" fill="#232323"><tspan font-size="81">10</tspan><tspan font-size="62.5" dy="-40.3">0</tspan></text>
<text x="348.7" y="413.3" text-anchor="end" fill="#232323"><tspan font-size="81">10</tspan><tspan font-size="62.5" dy="-38.3" style="stroke-width:0.2">-</tspan><tspan font-size="62.5" dy="-2">5</tspan></text>
<text x="348.7" y="703.8" text-anchor="end" fill="#232323"><tspan font-size="81">10</tspan><tspan font-size="62.5" dy="-38.3" style="stroke-width:0.2">-</tspan><tspan font-size="62.5" dy="-2">10</tspan></text>
<text x="348.7" y="991.9" text-anchor="end" fill="#232323"><tspan font-size="81">10</tspan><tspan font-size="62.5" dy="-38.3" style="stroke-width:0.2">-</tspan><tspan font-size="62.5" dy="-2">15</tspan></text>
<text x="348.7" y="1283.0" text-anchor="end" fill="#232323"><tspan font-size="81">10</tspan><tspan font-size="62.5" dy="-38.3" style="stroke-width:0.2">-</tspan><tspan font-size="62.5" dy="-2">20</tspan></text>
<text x="348.7" y="1574.2" text-anchor="end" fill="#232323"><tspan font-size="81">10</tspan><tspan font-size="62.5" dy="-38.3" style="stroke-width:0.2">-</tspan><tspan font-size="62.5" dy="-2">25</tspan></text>
<text x="968.1" y="1735.5" font-size="88" fill="#232323" style="stroke-width:0.5">Expected SNR(dB)</text>
<text transform="translate(156.9 1054.9) rotate(-90)" font-size="88.8" fill="#232323" style="stroke-width:0.5">Average BER</text>
<rect x="431.4" y="751.5" width="819.5" height="761.5" fill="#fff" stroke="#262626" stroke-width="2"/>
<path d="M440 796.0H517.3" stroke="#000000" stroke-width="2.0" fill="none"/>
<text x="522.4" y="821.6" font-size="72.7" fill="#000">Málaga, M = 1, ψ = 0.59</text>
<path d="M440 881.2H517.3" stroke="#000000" stroke-width="2.0" stroke-dasharray="25 15" fill="none"/>
<text x="522.4" y="906.9" font-size="72.7" fill="#000">Málaga, M = 2, ψ = 0.59</text>
<path d="M440 963.8H517.3" stroke="#000000" stroke-width="2.0" fill="none"/>
<path d="M473.59999999999997 958.5L484.2 969.1M473.59999999999997 969.1L484.2 958.5" stroke="#000000" stroke-width="2.0" fill="none"/>
<text x="522.4" y="989.4" font-size="72.7" fill="#000">Málaga, M = 3, ψ = 0.59</text>
<path d="M440 1049.2H517.3" stroke="#0000ff" stroke-width="2.0" fill="none"/>
<text x="522.4" y="1075.3" font-size="72.7" fill="#000">GG, M = 1, ψ = 1.3</text>
<path d="M440 1132.1H517.3" stroke="#0000ff" stroke-width="2.0" stroke-dasharray="25 15" fill="none"/>
<text x="522.4" y="1158.6" font-size="72.7" fill="#000">GG, M = 2, ψ = 1.3</text>
<path d="M440 1217.4H517.3" stroke="#0000ff" stroke-width="2.0" fill="none"/>
<path d="M473.59999999999997 1212.1L484.2 1222.7M473.59999999999997 1222.7L484.2 1212.1" stroke="#0000ff" stroke-width="2.0" fill="none"/>
<text x="522.4" y="1243.3" font-size="72.7" fill="#000">GG, M = 3, ψ = 1.3</text>
<path d="M440 1300.0H517.3" stroke="#ff0000" stroke-width="2.0" fill="none"/>
<text x="522.4" y="1328.3" font-size="72.7" fill="#000">NE, M = 1, ψ = 2.52</text>
<path d="M440 1385.2H517.3" stroke="#ff0000" stroke-width="2.0" stroke-dasharray="25 15" fill="none"/>
<text x="522.4" y="1411.7" font-size="72.7" fill="#000">NE, M = 2, ψ = 2.52</text>
<path d="M440 1468.0H517.3" stroke="#ff0000" stroke-width="2.0" fill="none"/>
<path d="M473.59999999999997 1462.7L484.2 1473.3M473.59999999999997 1473.3L484.2 1462.7" stroke="#ff0000" stroke-width="2.0" fill="none"/>
<text x="522.4" y="1494.4" font-size="72.7" fill="#000">NE, M = 3, ψ = 2.52</text>
</svg></div></body></html>
